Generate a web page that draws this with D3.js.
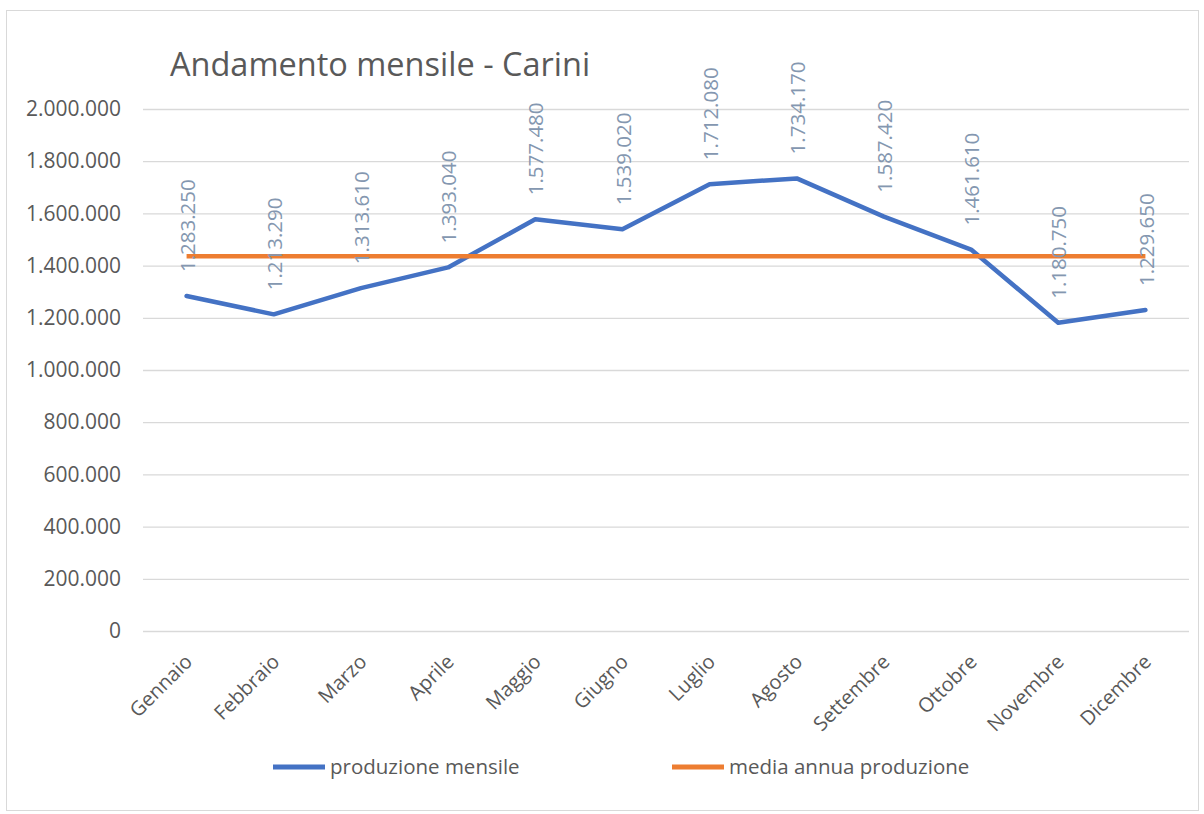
<!DOCTYPE html>
<html>
<head>
<meta charset="utf-8">
<script src="https://cdn.jsdelivr.net/npm/d3@7"></script>
<style>
  body { margin: 0; background: #fff; }
  svg { display: block; font-family: "Open Sans", sans-serif; }
</style>
</head>
<body>
<svg id="chart"></svg>
<script>
const months = ['Gennaio', 'Febbraio', 'Marzo', 'Aprile', 'Maggio', 'Giugno', 'Luglio', 'Agosto', 'Settembre', 'Ottobre', 'Novembre', 'Dicembre'];
const production = [1283250, 1213290, 1313610, 1393040, 1577480, 1539020, 1712080, 1734170, 1587420, 1461610, 1180750, 1229650];
const average = [1435447.5, 1435447.5, 1435447.5, 1435447.5, 1435447.5, 1435447.5, 1435447.5, 1435447.5, 1435447.5, 1435447.5, 1435447.5, 1435447.5];
const yTicks = [0, 200000, 400000, 600000, 800000, 1000000, 1200000, 1400000, 1600000, 1800000, 2000000];
const seriesNames = ['produzione mensile', 'media annua produzione'];

const width = 1204;
const height = 814;
const plot = { left: 143, right: 1189, top: 109, bottom: 631 };
const textColor = '#595959';
const blue = '#4472c4';
const orange = '#ed7d31';

const fmt = v => d3.format(',')(v).replace(/,/g, '.');

const svg = d3.select('#chart')
  .attr('width', width)
  .attr('height', height);

// chart border
svg.append('rect')
  .attr('x', 6.5)
  .attr('y', 10.5)
  .attr('width', 1192)
  .attr('height', 800)
  .attr('fill', '#fff')
  .attr('stroke', '#d9d9d9');

svg.append('text')
  .attr('x', 170)
  .attr('y', 76)
  .attr('font-size', 32.5)
  .attr('fill', textColor)
  .text('Andamento mensile - Carini');

const xScale = d3.scaleBand()
  .domain(months)
  .range([plot.left, plot.right]);
const xc = m => xScale(m) + xScale.bandwidth() / 2;

const yScale = d3.scaleLinear()
  .domain([0, 2000000])
  .range([plot.bottom, plot.top]);

// gridlines + y labels
const yAxis = svg.append('g')
  .attr('transform', `translate(${plot.left}, 0)`)
  .call(d3.axisLeft(yScale)
    .tickValues(yTicks)
    .tickSize(-(plot.right - plot.left))
    .tickPadding(22)
    .tickFormat(fmt));
yAxis.select('.domain').remove();
yAxis.selectAll('.tick line')
  .attr('stroke', '#d9d9d9')
  .attr('stroke-width', 1.3);
yAxis.selectAll('.tick text')
  .attr('font-size', 21)
  .attr('fill', textColor)
  .attr('font-family', '"Open Sans", sans-serif');

// x labels
const xAxis = svg.append('g')
  .attr('transform', `translate(0, ${plot.bottom})`)
  .call(d3.axisBottom(xScale).tickSize(0).tickPadding(0));
xAxis.select('.domain').remove();
xAxis.selectAll('.tick text')
  .attr('font-size', 20)
  .attr('fill', textColor)
  .attr('font-family', '"Open Sans", sans-serif')
  .attr('text-anchor', 'end')
  .attr('dy', null)
  .attr('transform', 'translate(7, 32) rotate(-45)');

const line = d3.line()
  .x((d, i) => xc(months[i]))
  .y(d => yScale(d));

svg.append('path')
  .datum(production)
  .attr('fill', 'none')
  .attr('stroke', blue)
  .attr('stroke-width', 4.5)
  .attr('stroke-linejoin', 'round')
  .attr('stroke-linecap', 'round')
  .attr('d', line);

svg.append('path')
  .datum(average)
  .attr('fill', 'none')
  .attr('stroke', orange)
  .attr('stroke-width', 4.5)
  .attr('d', line);

// data labels
svg.append('g')
  .selectAll('text')
  .data(production)
  .join('text')
  .attr('transform', (d, i) => `translate(${xc(months[i]) + 1}, ${yScale(d) - 24}) rotate(-90)`)
  .attr('dy', '0.35em')
  .attr('font-size', 20.5)
  .attr('fill', '#8497b0')
  .text(d => fmt(d));

// legend
const legend = svg.append('g');
const legendItems = [
  { name: seriesNames[0], color: blue, x: 273 },
  { name: seriesNames[1], color: orange, x: 672 }
];
legendItems.forEach(item => {
  legend.append('line')
    .attr('x1', item.x)
    .attr('x2', item.x + 52)
    .attr('y1', 767)
    .attr('y2', 767)
    .attr('stroke', item.color)
    .attr('stroke-width', 5);
  legend.append('text')
    .attr('x', item.x + 57)
    .attr('y', 767)
    .attr('dy', '0.35em')
    .attr('font-size', 20.5)
    .attr('fill', textColor)
    .text(item.name);
});
</script>
</body>
</html>
